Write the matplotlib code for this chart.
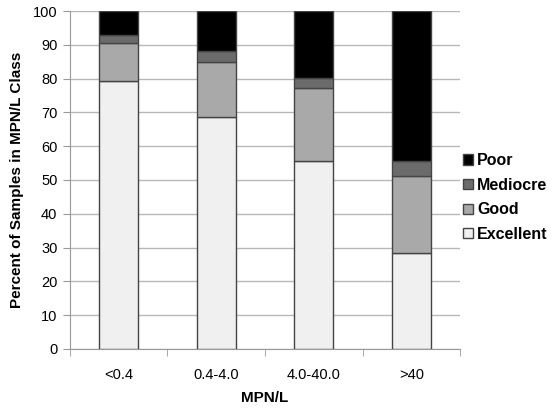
import matplotlib
matplotlib.use("Agg")
import matplotlib.pyplot as plt
import numpy as np

plt.rcParams['font.family'] = ['Liberation Sans', 'DejaVu Sans']

categories = ["<0.4", "0.4-4.0", "4.0-40.0", ">40"]
excellent = [79.3, 68.5, 55.5, 28.3]
good = [11.2, 16.5, 21.8, 22.9]
mediocre = [2.4, 3.2, 3.0, 4.4]
poor = [7.1, 11.8, 19.7, 44.4]

series = [("Excellent", excellent, "#f0f0f0"),
          ("Good", good, "#a9a9a9"),
          ("Mediocre", mediocre, "#6b6b6b"),
          ("Poor", poor, "#000000")]

fig = plt.figure(figsize=(5.55, 4.09), dpi=100)
ax = fig.add_axes([0.126, 0.147, 0.703, 0.826])

x = np.arange(len(categories))
bottom = np.zeros(len(categories))
handles = []
for name, vals, col in series:
    b = ax.bar(x, vals, bottom=bottom, width=0.4, color=col,
               edgecolor="#444444", linewidth=1.0, label=name, zorder=3)
    handles.append(b)
    bottom += np.array(vals)

ax.set_xlim(-0.5, len(categories) - 0.5)
ax.set_ylim(0, 100)
ax.set_yticks(range(0, 101, 10))
ax.yaxis.grid(True, color="#b8b8b8", linewidth=1.0, zorder=0)
ax.set_axisbelow(True)

ax.set_xticks(x)
ax.set_xticklabels(categories, fontsize=10.5)
ax.set_xticks(np.arange(-0.5, len(categories), 1.0), minor=True)
ax.tick_params(axis='x', which='major', length=0, pad=14)
ax.tick_params(axis='x', which='minor', length=5, color="#999999")
ax.tick_params(axis='y', length=5, color="#999999", labelsize=10.5, pad=4)

for s in ["top", "right"]:
    ax.spines[s].set_visible(False)
ax.spines["left"].set_color("#999999")
ax.spines["bottom"].set_color("#999999")

ax.set_xlabel("MPN/L", fontsize=11, fontweight="bold", labelpad=6)
ax.set_ylabel("Percent of Samples in MPN/L Class", fontsize=11, fontweight="bold", labelpad=6)

leg = fig.legend(handles[::-1], [s[0] for s in series][::-1],
                 loc="center left", bbox_to_anchor=(0.835, 0.517), frameon=False,
                 prop={'weight': 'bold', 'size': 11.5},
                 handlelength=0.6, handleheight=0.6, handletextpad=0.25,
                 labelspacing=0.6, borderaxespad=0.0, borderpad=0.0)

fig.savefig("out.png", dpi=100)
